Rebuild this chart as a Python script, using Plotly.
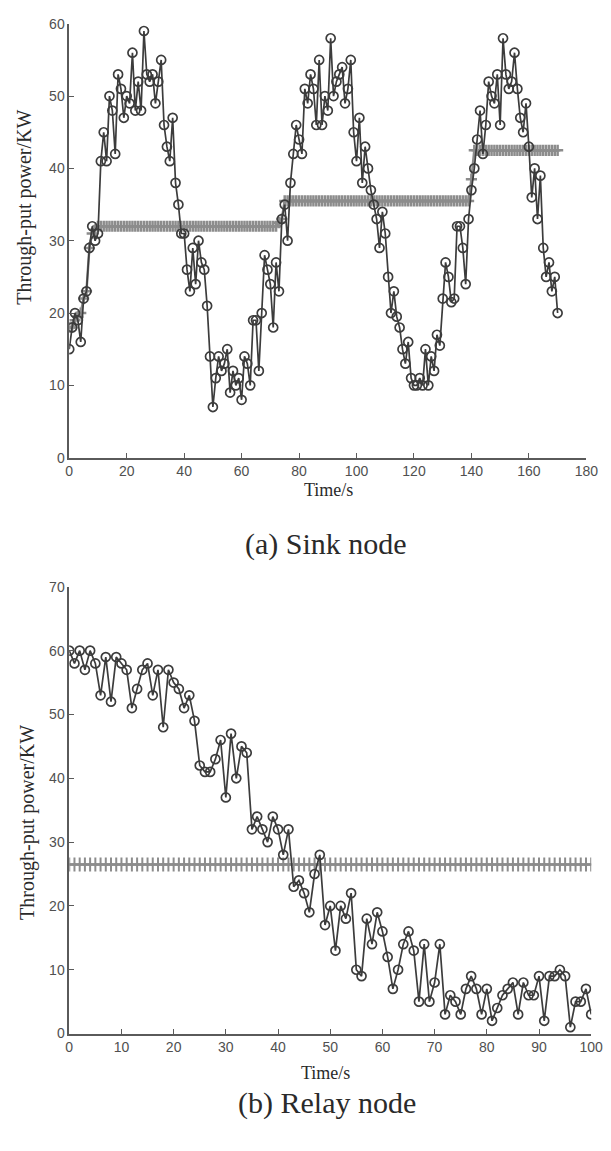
import plotly.graph_objects as go

# ---------------- Data: (a) Sink node ----------------
sink_t = list(range(0, 171))
sink_power = [
    15, 18, 20, 19, 16, 22, 23, 29, 32, 30,
    31, 41, 45, 41, 50, 48, 42, 53, 51, 47,
    50, 49, 56, 48, 52, 48, 59, 53, 52, 53,
    49, 52, 55, 46, 43, 41, 47, 38, 35, 31,
    31, 26, 23, 29, 24, 30, 27, 26, 21, 14,
    7, 11, 14, 12, 13, 15, 9, 12, 10, 11,
    8, 14, 13, 10, 19, 19, 12, 20, 28, 26,
    24, 18, 27, 23, 33, 35, 30, 38, 42, 46,
    44, 42, 51, 49, 53, 51, 46, 55, 46, 50,
    48, 58, 50, 52, 53, 54, 49, 51, 55, 45,
    41, 47, 38, 43, 40, 37, 35, 33, 29, 34,
    31, 25, 20, 23, 19.5, 18, 15, 13, 16, 11,
    10, 10, 11, 10, 15, 10, 14, 12, 17, 15.5,
    22, 27, 25, 21.5, 22, 32, 32, 29, 24, 33,
    37, 40, 44, 48, 42, 46, 52, 50, 49, 53,
    46, 58, 53, 51, 52, 56, 51, 47, 45, 49,
    43, 36, 40, 33, 39, 29, 25, 27, 23, 25,
    20,
]
sink_avg = (
    [18, 18, 19, 19.5, 20, 22, 23, 29, 31, 31.5]
    + [32] * 63
    + [32.5, 33]
    + [35.5] * 65
    + [38.5]
    + [42.5] * 30
)

# ---------------- Data: (b) Relay node ----------------
relay_t = list(range(0, 101))
relay_power = [
    60, 58, 60, 57, 60, 58, 53, 59, 52, 59,
    58, 57, 51, 54, 57, 58, 53, 57, 48, 57,
    55, 54, 51, 53, 49, 42, 41, 41, 43, 46,
    37, 47, 40, 45, 44, 32, 34, 32, 30, 34,
    32, 28, 32, 23, 24, 22, 19, 25, 28, 17,
    20, 13, 20, 18, 22, 10, 9, 18, 14, 19,
    16, 12, 7, 10, 14, 16, 13, 5, 14, 5,
    8, 14, 3, 6, 5, 3, 7, 9, 7, 3,
    7, 2, 4, 6, 7, 8, 3, 8, 6, 6,
    9, 2, 9, 9, 10, 9, 1, 5, 5, 7,
    3,
]
relay_avg = [26.5] * 101

sink_xticks = [0, 20, 40, 60, 80, 100, 120, 140, 160, 180]
sink_yticks = [0, 10, 20, 30, 40, 50, 60]
relay_xticks = [0, 10, 20, 30, 40, 50, 60, 70, 80, 90, 100]
relay_yticks = [0, 10, 20, 30, 40, 50, 60, 70]

W, H = 611, 1151
DATA_C = "#3c3c3c"
AVG_C = "#8c8c8c"
AX_C = "#5a5a5a"
TICK_FONT = dict(family="Liberation Sans, Arial", size=14, color="#505050")
SERIF = "Liberation Serif, Times New Roman"

fig = go.Figure()

# Sink node
fig.add_trace(go.Scatter(
    x=sink_t, y=sink_avg, mode="lines+markers", xaxis="x", yaxis="y",
    line=dict(color=AVG_C, width=2.5),
    marker=dict(symbol="cross-thin-open", size=8, line=dict(color=AVG_C, width=2.5)),
    showlegend=False, hoverinfo="skip"))
fig.add_trace(go.Scatter(
    x=sink_t, y=sink_power, mode="lines+markers", xaxis="x", yaxis="y",
    line=dict(color=DATA_C, width=1.7),
    marker=dict(symbol="circle-open", size=9, line=dict(color=DATA_C, width=1.7)),
    showlegend=False, hoverinfo="skip"))

# Relay node
fig.add_trace(go.Scatter(
    x=relay_t, y=relay_avg, mode="lines+markers", xaxis="x2", yaxis="y2",
    line=dict(color=AVG_C, width=2.5),
    marker=dict(symbol="cross-thin-open", size=10, line=dict(color=AVG_C, width=2)),
    showlegend=False, hoverinfo="skip"))
fig.add_trace(go.Scatter(
    x=relay_t, y=relay_power, mode="lines+markers", xaxis="x2", yaxis="y2",
    line=dict(color=DATA_C, width=1.7),
    marker=dict(symbol="circle-open", size=9, line=dict(color=DATA_C, width=1.7)),
    showlegend=False, hoverinfo="skip"))

def px_dom_x(a, b):
    return [a / W, b / W]

def px_dom_y(top, bottom):
    return [1 - bottom / H, 1 - top / H]

ax_common = dict(showgrid=False, zeroline=False, showline=True, linecolor=AX_C,
                 linewidth=1.5, ticks="inside", ticklen=5, tickcolor=AX_C,
                 tickwidth=1.2, tickfont=TICK_FONT, mirror=False)

fig.update_layout(
    width=W, height=H,
    margin=dict(l=0, r=0, t=0, b=0),
    paper_bgcolor="white", plot_bgcolor="white",
    xaxis=dict(domain=px_dom_x(67, 598), range=[0, 180], tickvals=sink_xticks,
               anchor="y", **ax_common),
    yaxis=dict(domain=px_dom_y(16, 456), range=[0, 60], tickvals=sink_yticks,
               anchor="x", **ax_common),
    xaxis2=dict(domain=px_dom_x(67, 603), range=[0, 100], tickvals=relay_xticks,
                anchor="y2", **ax_common),
    yaxis2=dict(domain=px_dom_y(587, 1040), range=[0, 70], tickvals=relay_yticks,
                anchor="x2", **ax_common),
)

def ann(text, x, y, size, angle=0):
    fig.add_annotation(text=text, x=x / W, y=1 - y / H, xref="paper", yref="paper",
                       showarrow=False, textangle=angle, xanchor="center", yanchor="middle",
                       font=dict(family=SERIF, size=size, color="#2a2a2a"))

ann("Through-put power/KW", 21, 202, 20, -90)
ann("Time/s", 333, 489, 18)
ann("(a) Sink node", 331, 544, 30)
ann("Through-put power/KW", 24, 826, 20, -90)
ann("Time/s", 330, 1080, 18)
ann("(b) Relay node", 332, 1110, 30)

fig.write_html("out.html")
